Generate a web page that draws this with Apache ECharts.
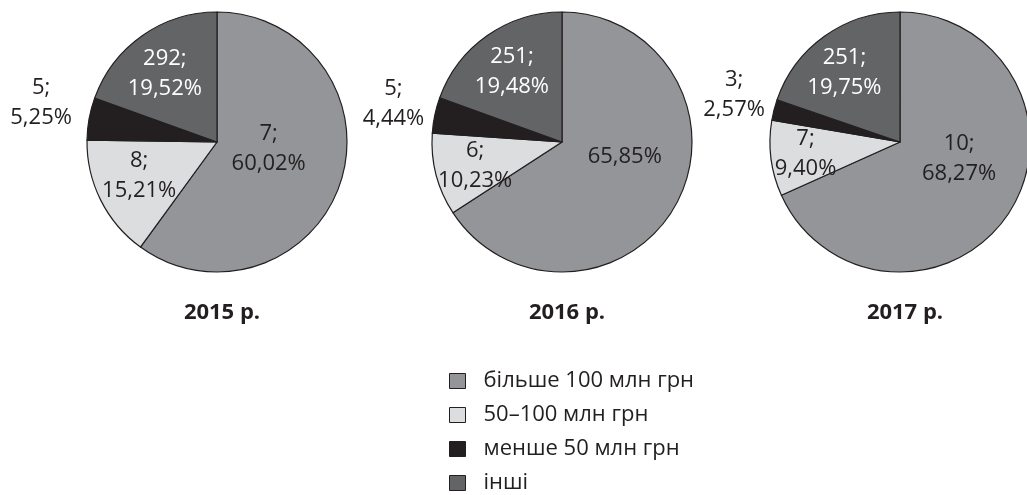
<!DOCTYPE html>
<html>
<head>
<meta charset="utf-8">
<script src="https://cdn.jsdelivr.net/npm/echarts@6/dist/echarts.min.js"></script>
<style>
  html, body { margin: 0; padding: 0; background: #fff; }
  #chart { width: 1027px; height: 495px; }
</style>
</head>
<body>
<div id="chart"></div>
<script>
// дані
const years = ['2015 р.', '2016 р.', '2017 р.'];
const categories = ['більше 100 млн грн', '50–100 млн грн', 'менше 50 млн грн', 'інші'];
const shares2015 = [60.02, 15.21, 5.25, 19.52];
const shares2016 = [65.85, 10.23, 4.44, 19.48];
const shares2017 = [68.27, 9.40, 2.57, 19.75];
const counts2015 = [7, 8, 5, 292];
const counts2016 = [null, 6, 5, 251];
const counts2017 = [10, 7, 3, 251];

const colors = ['#939598', '#dcdddf', '#231f20', '#636466'];
const labelColors = ['#231f20', '#231f20', '#231f20', '#ffffff'];
const centersX = [217, 562, 900];
// зсув підписів відносно стандартної позиції "inside"
const labelShift = [
    [[-13, -14], [-17, 3], [-109, -27], [-13, -13]],
    [[3, -18], [-21, 7], [-102, -24], [-11, -15]],
    [[2, -20], [-27, 3], [-100, -31], [-16, -14]]
];

const fontFamily = '"Open Sans", "Noto Sans", sans-serif';

function fmtPct(v) {
    return v.toFixed(2).replace('.', ',') + '%';
}

function buildSeries(idx, shares, counts) {
    return {
        name: years[idx],
        type: 'pie',
        center: [centersX[idx], 142],
        radius: 130,
        startAngle: 90,
        clockwise: true,
        avoidLabelOverlap: false,
        emphasis: { disabled: true },
        itemStyle: { borderColor: '#231f20', borderWidth: 1.2 },
        label: {
            show: true,
            position: 'inside',
            fontFamily: fontFamily,
            fontSize: 22,
            lineHeight: 30,
            align: 'center'
        },
        labelLine: { show: false },
        labelLayout: function (p) {
            const s = labelShift[idx][p.dataIndex];
            return { dx: s[0], dy: s[1] };
        },
        data: categories.map(function (c, i) {
            return {
                name: c,
                value: shares[i],
                itemStyle: { color: colors[i] },
                label: {
                    color: labelColors[i],
                    formatter: (counts[i] != null ? counts[i] + ';\n' : '') + fmtPct(shares[i])
                }
            };
        })
    };
}

const myChart = echarts.init(document.getElementById('chart'));
myChart.setOption({
    animation: false,
    title: years.map(function (y, i) {
        return {
            text: y,
            left: centersX[i],
            top: 297,
            textAlign: 'center',
            textStyle: { fontFamily: fontFamily, fontSize: 22, fontWeight: 'bold', color: '#231f20' }
        };
    }),
    legend: {
        orient: 'vertical',
        left: 449,
        top: 370,
        padding: 0,
        itemWidth: 16,
        itemHeight: 15,
        itemGap: 12,
        icon: 'rect',
        data: categories,
        selectedMode: false,
        itemStyle: { borderColor: '#231f20', borderWidth: 1 },
        textStyle: { fontFamily: fontFamily, fontSize: 22, color: '#231f20', lineHeight: 22, padding: [0, 0, 0, 13] }
    },
    series: [
        buildSeries(0, shares2015, counts2015),
        buildSeries(1, shares2016, counts2016),
        buildSeries(2, shares2017, counts2017)
    ]
});
</script>
</body>
</html>
